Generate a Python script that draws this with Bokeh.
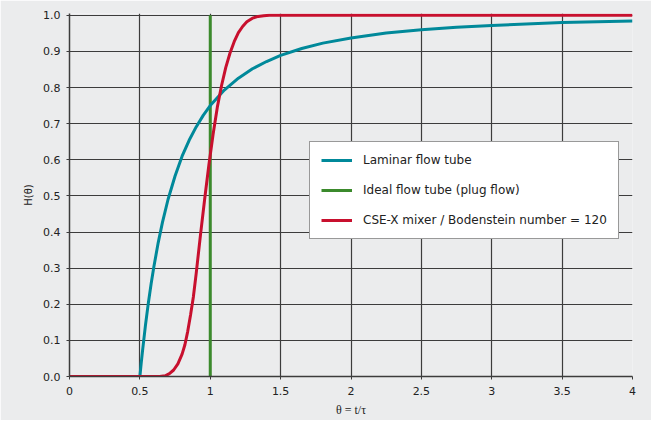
from bokeh.plotting import figure
from bokeh.models import FixedTicker, Legend, LegendItem, PrintfTickFormatter, Range1d
from bokeh.embed import file_html
from bokeh.resources import INLINE

# Laminar flow tube
laminar_theta = [0.5, 0.51, 0.52, 0.54, 0.56, 0.58, 0.6, 0.63, 0.66, 0.7, 0.75, 0.8, 0.85,
                 0.9, 0.95, 1.0, 1.1, 1.2, 1.3, 1.4, 1.5, 1.65, 1.8, 2.0, 2.25, 2.5, 2.75,
                 3.0, 3.5, 4.0]
laminar_h = [0.0, 0.039, 0.075, 0.143, 0.203, 0.257, 0.305, 0.37, 0.426, 0.49, 0.555, 0.61,
             0.654, 0.691, 0.723, 0.75, 0.793, 0.826, 0.852, 0.872, 0.889, 0.908, 0.923,
             0.937, 0.951, 0.96, 0.967, 0.972, 0.98, 0.984]

# Ideal flow tube (plug flow)
plug_theta = [1.0, 1.0]
plug_h = [0.0, 1.0]

# CSE-X mixer, Bo = 120
csex_theta = [0.0, 0.64, 0.68, 0.71, 0.74, 0.77, 0.80, 0.82, 0.84, 0.86, 0.88, 0.90, 0.93,
              0.96, 0.99, 1.02, 1.05, 1.08, 1.11, 1.14, 1.17, 1.20, 1.23, 1.26, 1.30,
              1.34, 1.38, 1.42, 4.0]
csex_h = [0.0, 0.0, 0.002, 0.008, 0.018, 0.035, 0.062, 0.088, 0.125, 0.17, 0.22, 0.285,
          0.39, 0.49, 0.585, 0.67, 0.745, 0.805, 0.855, 0.895, 0.927, 0.952, 0.969, 0.982,
          0.992, 0.997, 0.999, 1.0, 1.0]

x_ticks = [0, 0.5, 1, 1.5, 2, 2.5, 3, 3.5, 4]
x_tick_labels = ["0", "0.5", "1", "1.5", "2", "2.5", "3", "3.5", "4"]
y_ticks = [0.0, 0.1, 0.2, 0.3, 0.4, 0.5, 0.6, 0.7, 0.8, 0.9, 1.0]

series_names = ["Laminar flow tube", "Ideal flow tube (plug flow)",
                "CSE-X mixer / Bodenstein number = 120"]
series_colors = ["#00899a", "#3b8a2c", "#c8102e"]

BG = "#ebeced"
GRID = "#3c3c3c"
SANS = "DejaVu Sans"

p = figure(width=651, height=420, x_range=Range1d(0, 4), y_range=Range1d(0, 1.005),
           output_backend="svg", toolbar_location=None,
           min_border_left=69, min_border_right=19, min_border_top=13, min_border_bottom=44)
p.background_fill_color = BG
p.border_fill_color = BG
p.outline_line_color = None

r_plug = p.line(plug_theta, plug_h, line_color=series_colors[1], line_width=3)
r_lam = p.line(laminar_theta, laminar_h, line_color=series_colors[0], line_width=3)
r_csex = p.line(csex_theta, csex_h, line_color=series_colors[2], line_width=3)

p.xaxis.ticker = FixedTicker(ticks=x_ticks)
p.xaxis.major_label_overrides = {t: l for t, l in zip(x_ticks, x_tick_labels)}
p.yaxis.ticker = FixedTicker(ticks=y_ticks)
p.yaxis.formatter = PrintfTickFormatter(format="%.1f")

for ax in (p.xaxis[0], p.yaxis[0]):
    ax.axis_line_color = GRID
    ax.axis_line_width = 1.5
    ax.major_tick_line_color = GRID
    ax.major_tick_out = 3
    ax.major_tick_in = 0
    ax.minor_tick_line_color = None
    ax.major_label_text_font = SANS
    ax.major_label_text_font_size = "11px"
    ax.major_label_text_color = "#222222"

p.xaxis.major_label_standoff = 7
p.yaxis.major_label_standoff = 6

p.xaxis.axis_label = "θ = t/τ"
p.xaxis.axis_label_text_font = "Liberation Serif"
p.xaxis.axis_label_text_font_style = "normal"
p.xaxis.axis_label_text_font_size = "12px"
p.xaxis.axis_label_text_color = "#222222"
p.xaxis.axis_label_standoff = 5

p.yaxis.axis_label = "H(θ)"
p.yaxis.axis_label_text_font = SANS
p.yaxis.axis_label_text_font_style = "normal"
p.yaxis.axis_label_text_font_size = "10px"
p.yaxis.axis_label_text_color = "#222222"
p.yaxis.axis_label_standoff = 6

p.xgrid.ticker = FixedTicker(ticks=x_ticks)
p.ygrid.ticker = FixedTicker(ticks=y_ticks)
for g in (p.xgrid[0], p.ygrid[0]):
    g.grid_line_color = GRID
    g.grid_line_width = 1.2

legend = Legend(items=[
    LegendItem(label=series_names[0], renderers=[r_lam]),
    LegendItem(label=series_names[1], renderers=[r_plug]),
    LegendItem(label=series_names[2], renderers=[r_csex]),
], location=(240, 137))
legend.background_fill_color = "white"
legend.background_fill_alpha = 1.0
legend.border_line_color = "#333333"
legend.border_line_width = 1
legend.padding = 11
legend.margin = 0
legend.spacing = 16
legend.glyph_width = 31
legend.glyph_height = 12
legend.label_height = 12
legend.label_standoff = 11
legend.label_text_font = SANS
legend.label_text_font_size = "12px"
legend.label_text_color = "#222222"
legend.label_text_baseline = "middle"
p.add_layout(legend, "center")

open("out.html", "w").write(file_html(p, INLINE))
